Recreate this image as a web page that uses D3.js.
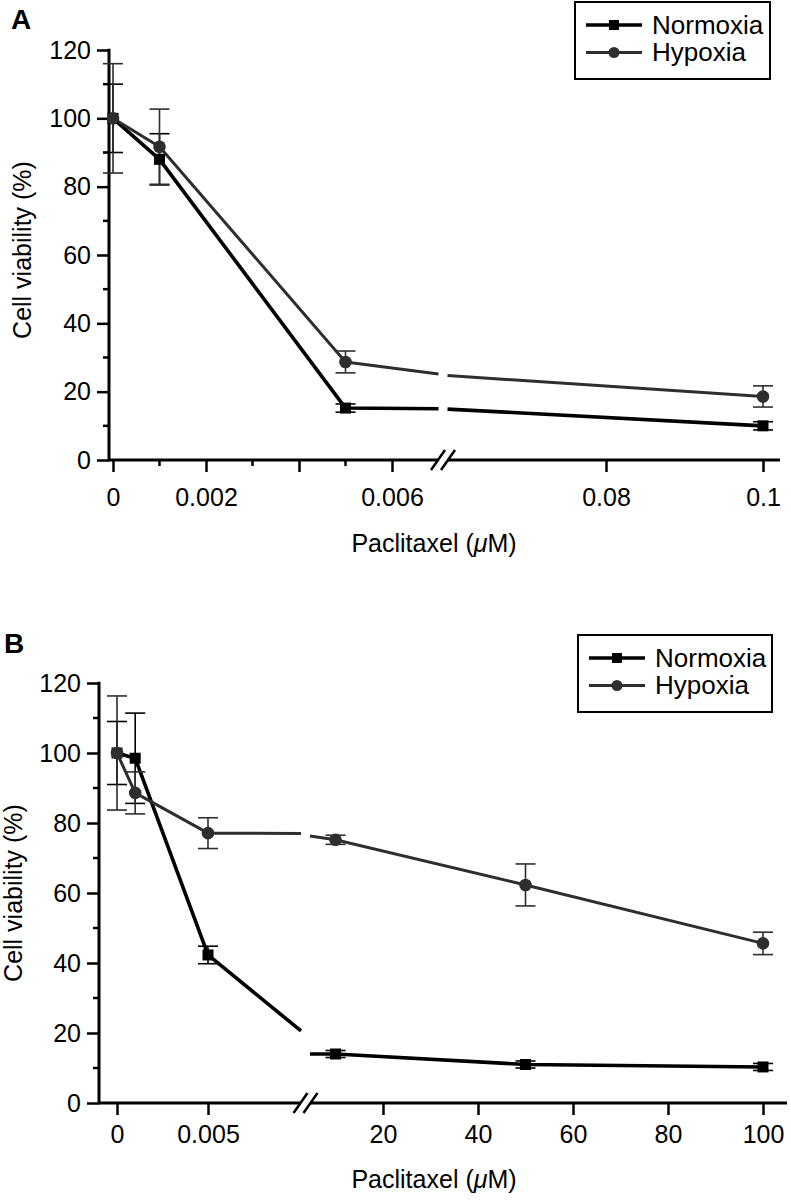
<!DOCTYPE html>
<html><head><meta charset="utf-8">
<script src="https://cdn.jsdelivr.net/npm/d3@7"></script>
<style>
body{margin:0;background:#fff;}
svg{display:block;}
text{font-family:"Liberation Sans",Arial,Helvetica,sans-serif;fill:#000;}
</style></head>
<body>
<svg id="chart" width="791" height="1200"></svg>
<script>
// ---------------- DATA ----------------
const seriesNames = ["Normoxia", "Hypoxia"];

// Panel A
const doseA = [0, 0.001, 0.005, 0.1];
const normoxiaA = [100, 88, 15.2, 10.0];
const normoxiaErrA = [10, 7.5, 1.2, 1.2];
const hypoxiaA = [100, 91.7, 28.7, 18.6];
const hypoxiaErrA = [16, 11, 3.2, 3.1];
const normoxiaBreakA = [15.0, 14.9];   // line value at the left / right edge of the axis break
const hypoxiaBreakA = [25.2, 24.7];
const xTicksLeftA = [0, 0.002, 0.004, 0.006];
const xTickLabelsLeftA = ["0", "0.002", "", "0.006"];
const xMinorLeftA = [0.001, 0.003, 0.005];
const xTicksRightA = [0.08, 0.1];
const xTickLabelsRightA = ["0.08", "0.1"];

// Panel B
const doseB = [0, 0.001, 0.005, 10, 50, 100];
const normoxiaB = [100, 98.5, 42.3, 14.0, 11.0, 10.3];
const normoxiaErrB = [9, 12.9, 2.5, 1.0, 1.0, 1.0];
const hypoxiaB = [100, 88.6, 77.1, 75.2, 62.3, 45.6];
const hypoxiaErrB = [16.3, 6, 4.4, 1.3, 6, 3.2];
const normoxiaBreakB = [20.6, 14.0];
const hypoxiaBreakB = [77.0, 76.3];
const xTicksLeftB = [0, 0.005];
const xTickLabelsLeftB = ["0", "0.005"];
const xMinorLeftB = [];
const xTicksRightB = [20, 40, 60, 80, 100];
const xTickLabelsRightB = ["20", "40", "60", "80", "100"];

const yTicks = [0, 20, 40, 60, 80, 100, 120];
const yMinor = [10, 30, 50, 70, 90, 110];
const yTitle = "Cell viability (%)";

// ---------------- DRAW ----------------
const svg = d3.select("#chart");
const colors = {Normoxia: "#000", Hypoxia: "#2e2e2e"};
const lineW = {Normoxia: 3.6, Hypoxia: 3.0};

function panel(cfg) {
  const g = svg.append("g");
  const y = d3.scaleLinear().domain([0, 120]).range([cfg.y0, cfg.y120]);
  const xL = d3.scaleLinear().domain(cfg.leftDomain).range(cfg.leftRange);
  const xR = d3.scaleLinear().domain(cfg.rightDomain).range(cfg.rightRange);
  const xOf = d => d < cfg.splitDose ? xL(d) : xR(d);
  const bx = cfg.breakX, gap = 4.5;

  // panel letter
  g.append("text").attr("x", cfg.letterX).attr("y", cfg.letterY)
    .attr("font-size", 28).attr("font-weight", "bold").text(cfg.letter);

  // y axis
  const yAx = g.append("g").attr("transform", `translate(${cfg.yAxisX},0)`)
    .call(d3.axisLeft(y).tickValues(yTicks).tickSize(12).tickPadding(6).tickFormat(d3.format("d")));
  yAx.select(".domain").remove();
  yAx.selectAll(".tick line").attr("stroke", "#000").attr("stroke-width", 2.5);
  yAx.selectAll(".tick text").attr("font-size", 25).attr("fill", "#000")
     .style("font-family", '"Liberation Sans",Arial,sans-serif');
  g.append("g").selectAll("line").data(yMinor).join("line")
    .attr("x1", cfg.yAxisX - 6).attr("x2", cfg.yAxisX)
    .attr("y1", d => y(d)).attr("y2", d => y(d))
    .attr("stroke", "#000").attr("stroke-width", 2.5);
  g.append("line").attr("x1", cfg.yAxisX).attr("x2", cfg.yAxisX)
    .attr("y1", y(120) - 1.25).attr("y2", y(0) + 1.25)
    .attr("stroke", "#000").attr("stroke-width", 3);

  // x axis lines with break
  g.append("line").attr("x1", cfg.yAxisX).attr("x2", bx - gap)
    .attr("y1", y(0)).attr("y2", y(0)).attr("stroke", "#000").attr("stroke-width", 3);
  g.append("line").attr("x1", bx + gap).attr("x2", cfg.axisEndX)
    .attr("y1", y(0)).attr("y2", y(0)).attr("stroke", "#000").attr("stroke-width", 3);
  [-5, 5].forEach(o => {
    g.append("line").attr("x1", bx + o - 7).attr("y1", y(0) + 10)
      .attr("x2", bx + o + 7).attr("y2", y(0) - 10)
      .attr("stroke", "#000").attr("stroke-width", 2.5);
  });
  // x ticks
  const xAxisL = g.append("g").attr("transform", `translate(0,${y(0)})`)
    .call(d3.axisBottom(xL).tickValues(cfg.ticksL).tickSize(12).tickPadding(cfg.tickPad)
      .tickFormat((d, i) => cfg.labelsL[i]));
  const xAxisR = g.append("g").attr("transform", `translate(0,${y(0)})`)
    .call(d3.axisBottom(xR).tickValues(cfg.ticksR).tickSize(12).tickPadding(cfg.tickPad)
      .tickFormat((d, i) => cfg.labelsR[i]));
  [xAxisL, xAxisR].forEach(a => {
    a.select(".domain").remove();
    a.selectAll(".tick line").attr("stroke", "#000").attr("stroke-width", 2.5);
    a.selectAll(".tick text").attr("font-size", 25).attr("fill", "#000")
      .style("font-family", '"Liberation Sans",Arial,sans-serif');
  });
  g.append("g").selectAll("line").data(cfg.minorL).join("line")
    .attr("x1", d => xL(d)).attr("x2", d => xL(d))
    .attr("y1", y(0)).attr("y2", y(0) + 6)
    .attr("stroke", "#000").attr("stroke-width", 2.5);

  // titles
  g.append("text").attr("x", cfg.xTitleX).attr("y", cfg.xTitleY).attr("text-anchor", "middle")
    .attr("font-size", 25)
    .call(t => { t.append("tspan").text("Paclitaxel (");
                 t.append("tspan").attr("font-style", "italic").text("\u03bc");
                 t.append("tspan").text("M)"); });
  g.append("text").attr("transform", `translate(${cfg.yTitleX},${cfg.yTitleY}) rotate(-90)`)
    .attr("text-anchor", "middle").attr("font-size", 25).text(yTitle);

  // series
  cfg.series.forEach(s => {
    const pts = [];
    cfg.dose.forEach((d, i) => {
      if (d >= cfg.splitDose && pts.length && !pts.brk) {
        pts.push([bx - gap, y(s.brk[0]), true]);
        pts.push([bx, 0, false]);
        pts.push([bx + gap, y(s.brk[1]), true]);
        pts.brk = true;
      }
      pts.push([xOf(d), y(s.vals[i]), true]);
    });
    const line = d3.line().defined(p => p[2]).x(p => p[0]).y(p => p[1]);
    g.append("path").attr("d", line(pts)).attr("fill", "none")
      .attr("stroke", colors[s.name]).attr("stroke-width", lineW[s.name])
      .attr("stroke-linejoin", "round");
  });
  cfg.series.forEach(s => {
    const eg = g.append("g").attr("stroke", colors[s.name]).attr("stroke-width", 1.6);
    cfg.dose.forEach((d, i) => {
      const cx = xOf(d), hi = y(s.vals[i] + s.err[i]), lo = y(s.vals[i] - s.err[i]);
      eg.append("line").attr("x1", cx).attr("x2", cx).attr("y1", hi).attr("y2", lo);
      eg.append("line").attr("x1", cx - 10).attr("x2", cx + 10).attr("y1", hi).attr("y2", hi);
      eg.append("line").attr("x1", cx - 10).attr("x2", cx + 10).attr("y1", lo).attr("y2", lo);
    });
  });
  cfg.series.forEach(s => {
    cfg.dose.forEach((d, i) => {
      const cx = xOf(d), cy = y(s.vals[i]);
      if (s.name === "Normoxia")
        g.append("rect").attr("x", cx - 5.5).attr("y", cy - 5.5).attr("width", 11).attr("height", 11)
          .attr("fill", colors[s.name]);
      else
        g.append("circle").attr("cx", cx).attr("cy", cy).attr("r", 6.3).attr("fill", colors[s.name]);
    });
  });

  // legend
  const L = cfg.legend;
  g.append("rect").attr("x", L.x).attr("y", L.y).attr("width", L.w).attr("height", L.h)
    .attr("fill", "none").attr("stroke", "#000").attr("stroke-width", 2);
  seriesNames.forEach((n, i) => {
    const ly = L.y + 23 + i * 27.5;
    g.append("line").attr("x1", L.x + 11).attr("x2", L.x + 67).attr("y1", ly).attr("y2", ly)
      .attr("stroke", colors[n]).attr("stroke-width", lineW[n]);
    if (n === "Normoxia")
      g.append("rect").attr("x", L.x + 34).attr("y", ly - 5).attr("width", 10).attr("height", 10).attr("fill", colors[n]);
    else
      g.append("circle").attr("cx", L.x + 39).attr("cy", ly).attr("r", 5.5).attr("fill", colors[n]);
    g.append("text").attr("x", L.x + 77).attr("y", ly + 8.5).attr("font-size", 26).text(n);
  });
}

panel({
  letter: "A", letterX: 11, letterY: 29,
  y0: 460, y120: 50, yAxisX: 109,
  leftDomain: [0, 0.006], leftRange: [113, 392],
  rightDomain: [0.08, 0.1], rightRange: [606, 763],
  splitDose: 0.05, breakX: 443, axisEndX: 780,
  ticksL: xTicksLeftA, labelsL: xTickLabelsLeftA, minorL: xMinorLeftA,
  ticksR: xTicksRightA, labelsR: xTickLabelsRightA, tickPad: 16,
  xTitleX: 434, xTitleY: 552, yTitleX: 31, yTitleY: 250,
  dose: doseA,
  series: [
    {name: "Normoxia", vals: normoxiaA, err: normoxiaErrA, brk: normoxiaBreakA},
    {name: "Hypoxia", vals: hypoxiaA, err: hypoxiaErrA, brk: hypoxiaBreakA}
  ],
  legend: {x: 575, y: 2, w: 195, h: 77}
});

panel({
  letter: "B", letterX: 4, letterY: 653,
  y0: 1103, y120: 683, yAxisX: 99,
  leftDomain: [0, 0.005], leftRange: [117, 208],
  rightDomain: [20, 100], rightRange: [383, 763],
  splitDose: 1, breakX: 305.5, axisEndX: 787,
  ticksL: xTicksLeftB, labelsL: xTickLabelsLeftB, minorL: xMinorLeftB,
  ticksR: xTicksRightB, labelsR: xTickLabelsRightB, tickPad: 10,
  xTitleX: 434, xTitleY: 1188, yTitleX: 22, yTitleY: 893,
  dose: doseB,
  series: [
    {name: "Normoxia", vals: normoxiaB, err: normoxiaErrB, brk: normoxiaBreakB},
    {name: "Hypoxia", vals: hypoxiaB, err: hypoxiaErrB, brk: hypoxiaBreakB}
  ],
  legend: {x: 578, y: 635, w: 194, h: 77}
});
</script>
</body></html>
